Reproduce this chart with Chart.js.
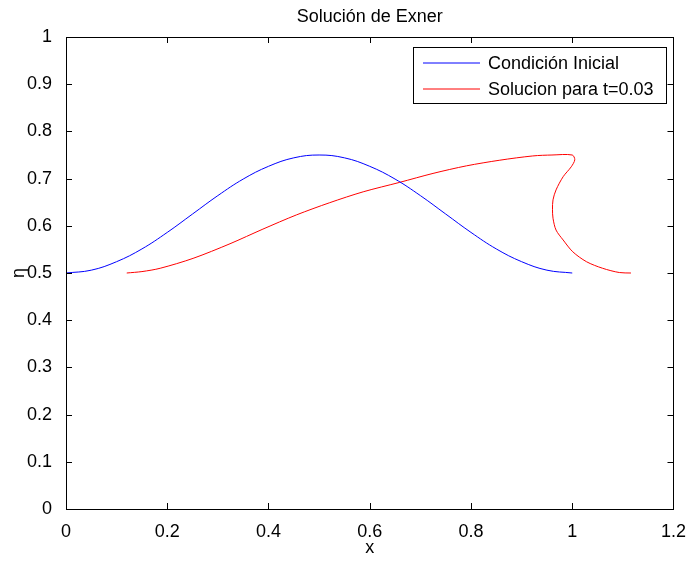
<!DOCTYPE html>
<html>
<head>
<meta charset="utf-8">
<script src="https://cdn.jsdelivr.net/npm/chart.js@4.4.1/dist/chart.umd.min.js"></script>
<style>
  body { margin: 0; background: #fff; }
</style>
</head>
<body>
<canvas id="chart" width="690" height="561"></canvas>
<script>
// --- Data ---
const chartTitle = 'Solución de Exner';
const seriesLabels = ['Condición Inicial', 'Solucion para t=0.03'];

const xTicks = ['0', '0.2', '0.4', '0.6', '0.8', '1', '1.2'];
const yTicks = ['0', '0.1', '0.2', '0.3', '0.4', '0.5', '0.6', '0.7', '0.8', '0.9', '1'];

// initial condition
const initX = [0, 0.05, 0.1, 0.15, 0.2, 0.25, 0.3, 0.35, 0.4, 0.45, 0.5,
               0.55, 0.6, 0.65, 0.7, 0.75, 0.8, 0.85, 0.9, 0.95, 1];
const initY = [0.5, 0.506, 0.524, 0.551, 0.586, 0.625, 0.664, 0.699, 0.726, 0.744, 0.75,
               0.744, 0.726, 0.699, 0.664, 0.625, 0.586, 0.551, 0.524, 0.506, 0.5];

// solution at t=0.03 (folds back near x=1)
const solX = [0.12, 0.15, 0.186, 0.251, 0.324, 0.389, 0.455, 0.521, 0.587, 0.659, 0.725,
              0.791, 0.857, 0.922, 0.96, 1.0, 1.005, 0.998, 0.982, 0.968, 0.962, 0.961,
              0.962, 0.968, 0.982, 1.001, 1.028, 1.06, 1.093, 1.116];
const solY = [0.5, 0.503, 0.51, 0.531, 0.562, 0.593, 0.623, 0.649, 0.672, 0.692, 0.711,
              0.727, 0.739, 0.748, 0.75, 0.75, 0.74, 0.725, 0.704, 0.676, 0.655, 0.635,
              0.616, 0.591, 0.57, 0.545, 0.524, 0.51, 0.501, 0.5];

const FONT = 'Liberation Sans, Arial, sans-serif';
const FS = 18;

const toPoints = (xs, ys) => xs.map((x, i) => ({ x, y: ys[i] }));

// box, inside ticks, title and legend like the matlab figure
const matlabFrame = {
    id: 'matlabFrame',
    afterDatasetsDraw(chart) {
        const { ctx, chartArea: a, scales } = chart;
        const len = 6;
        ctx.save();
        ctx.strokeStyle = '#000';
        ctx.lineWidth = 1;
        ctx.strokeRect(Math.round(a.left) + 0.5, Math.round(a.top) + 0.5,
                       Math.round(a.right - a.left), Math.round(a.bottom - a.top));
        ctx.beginPath();
        xTicks.forEach(t => {
            const px = Math.round(scales.x.getPixelForValue(+t)) + 0.5;
            ctx.moveTo(px, a.bottom); ctx.lineTo(px, a.bottom - len);
            ctx.moveTo(px, a.top); ctx.lineTo(px, a.top + len);
        });
        yTicks.forEach(t => {
            const py = Math.round(scales.y.getPixelForValue(+t)) + 0.5;
            ctx.moveTo(a.left, py); ctx.lineTo(a.left + len, py);
            ctx.moveTo(a.right, py); ctx.lineTo(a.right - len, py);
        });
        ctx.stroke();

        // title
        ctx.fillStyle = '#000';
        ctx.font = `${FS}px ${FONT}`;
        ctx.textAlign = 'center';
        ctx.textBaseline = 'middle';
        ctx.fillText(chartTitle, (a.left + a.right) / 2, 17);

        // legend
        const lx = 413, ly = 47, lw = 253, lh = 56;
        ctx.fillStyle = '#fff';
        ctx.fillRect(lx, ly, lw, lh);
        ctx.strokeRect(lx + 0.5, ly + 0.5, lw, lh);
        ctx.textAlign = 'left';
        chart.data.datasets.forEach((ds, i) => {
            const y = ly + 16 + i * 26;
            ctx.strokeStyle = ds.borderColor;
            ctx.beginPath();
            ctx.moveTo(lx + 10, y); ctx.lineTo(lx + 67, y);
            ctx.stroke();
            ctx.fillStyle = '#000';
            ctx.fillText(ds.label, lx + 75, y + 1);
        });
        ctx.restore();
    }
};

new Chart(document.getElementById('chart').getContext('2d'), {
    type: 'scatter',
    data: {
        datasets: [
            {
                label: seriesLabels[0],
                data: toPoints(initX, initY),
                borderColor: '#0000ff',
                borderWidth: 1,
                showLine: true,
                pointRadius: 0,
                tension: 0.4
            },
            {
                label: seriesLabels[1],
                data: toPoints(solX, solY),
                borderColor: '#ff0000',
                borderWidth: 1,
                showLine: true,
                pointRadius: 0,
                tension: 0.3
            }
        ]
    },
    options: {
        responsive: false,
        animation: false,
        devicePixelRatio: 1,
        layout: { padding: { left: 0, right: 16, top: 37, bottom: 0 } },
        plugins: {
            legend: { display: false },
            title: { display: false },
            tooltip: { enabled: false }
        },
        scales: {
            x: {
                type: 'linear',
                min: 0, max: 1.2,
                grid: { display: false },
                border: { display: false },
                afterFit: s => { s.height = 52; },
                afterBuildTicks: s => { s.ticks = xTicks.map(t => ({ value: +t })); },
                ticks: {
                    color: '#000', padding: 4, maxRotation: 0,
                    font: { family: FONT, size: FS },
                    callback: (v, i) => xTicks[i]
                },
                title: { display: true, text: 'x', color: '#000', padding: { top: 0, bottom: 2 },
                         font: { family: FONT, size: FS } }
            },
            y: {
                type: 'linear',
                min: 0, max: 1,
                grid: { display: false },
                border: { display: false },
                afterFit: s => { s.width = 66; },
                afterBuildTicks: s => { s.ticks = yTicks.map(t => ({ value: +t })); },
                ticks: {
                    color: '#000', padding: 6,
                    font: { family: FONT, size: FS },
                    callback: (v, i) => yTicks[i]
                },
                title: { display: true, text: 'η', color: '#000', padding: { top: 8, bottom: 0 },
                         font: { family: FONT, size: FS } }
            }
        }
    },
    plugins: [matlabFrame]
});
</script>
</body>
</html>
